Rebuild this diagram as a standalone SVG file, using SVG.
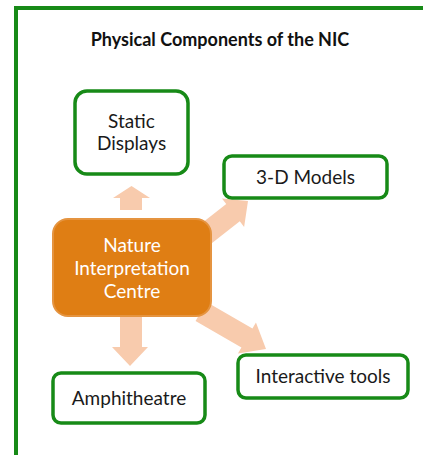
<svg xmlns="http://www.w3.org/2000/svg" width="423" height="455" viewBox="0 0 423 455">
<defs>
<style>
.frame{fill:none;stroke:#178A17;stroke-width:4}
.box{fill:#ffffff;stroke:#178A17;stroke-width:3.5}
.hub{fill:#DF7E14;stroke:#E59440;stroke-width:2}
.arrow{fill:#F8CBAD}
.t{font-family:Lato,"Open Sans","Liberation Sans",sans-serif;font-size:19px;fill:#1a1a1a;text-anchor:middle}
.w{fill:#ffffff}
.title{font-family:Lato,"Open Sans","Liberation Sans",sans-serif;font-size:18px;font-weight:bold;fill:#111;text-anchor:middle}
</style>
</defs>
<rect width="423" height="455" fill="#ffffff"/>
<path class="frame" d="M16,458 V8 H426"/>
<text class="title" x="220" y="46">Physical Components of the NIC</text>
<g id="connectors">
<polygon class="arrow" points="120,210 120,198 113,198 131.5,186 150,198 142,198 142,210"/>
<polygon class="arrow" points="120,316 120,347 112,347 130,366 148,347 142,347 142,316"/>
<polygon class="arrow" transform="translate(248,201) rotate(-38)" points="-55,-11 -19,-11 -19,-18 0,0 -19,18 -19,11 -55,11"/>
<polygon class="arrow" transform="translate(266,349) rotate(30)" points="-75,-11 -22,-11 -22,-18 0,0 -22,18 -22,11 -75,11"/>
</g>
<g id="static-displays">
<rect class="box" x="75" y="91" width="113" height="83" rx="12"/>
<text class="t" x="131.5" y="128">Static</text>
<text class="t" x="131.5" y="150">Displays</text>
</g>
<g id="models-3d">
<rect class="box" x="224" y="156" width="163" height="42" rx="8"/>
<text class="t" x="305.5" y="184">3-D Models</text>
</g>
<g id="nic">
<rect class="hub" x="53" y="219" width="158" height="97" rx="15"/>
<text class="t w" x="132" y="252">Nature</text>
<text class="t w" x="132" y="275">Interpretation</text>
<text class="t w" x="132" y="298">Centre</text>
</g>
<g id="amphitheatre">
<rect class="box" x="53" y="373" width="152" height="50" rx="8"/>
<text class="t" x="129" y="405">Amphitheatre</text>
</g>
<g id="interactive-tools">
<rect class="box" x="238" y="355" width="170" height="43" rx="8"/>
<text class="t" x="323" y="383">Interactive tools</text>
</g>
</svg>
